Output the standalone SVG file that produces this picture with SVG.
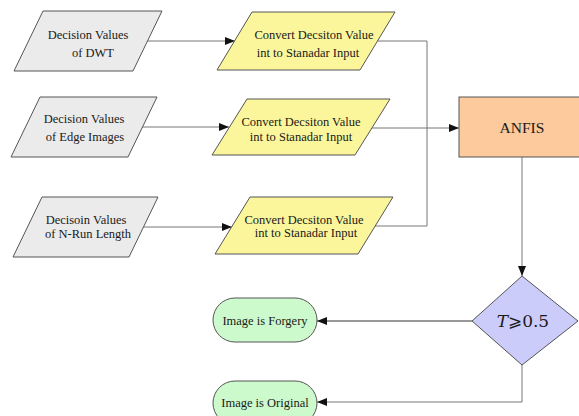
<svg xmlns="http://www.w3.org/2000/svg" width="579" height="416" viewBox="0 0 579 416">
<defs>
<marker id="ah" viewBox="0 0 10 8" refX="10" refY="4" markerWidth="10" markerHeight="8" markerUnits="userSpaceOnUse" orient="auto">
<path d="M0,0 L10,4 L0,8 Z" fill="#111"/>
</marker>
<style>
.sh{stroke:#555;stroke-width:1}
.gray{fill:#ebebeb}
.yel{fill:#fbf69c}
.anf{fill:#fcca9c}
.dia{fill:#ccccfb}
.grn{fill:#ccfacc}
.t{font-family:"Liberation Serif","Times New Roman",serif;font-size:12.5px;fill:#1a1a1a;text-anchor:middle}
.big{font-size:15.5px}
.math{font-family:"DejaVu Serif","Liberation Serif",serif;font-size:17px}
.ln{fill:none;stroke:#777;stroke-width:1}
</style>
</defs>
<rect width="579" height="416" fill="#fff"/>
<g id="connectors">
<path class="ln" d="M147,41 H235" marker-end="url(#ah)"/>
<path class="ln" d="M142,127 H229" marker-end="url(#ah)"/>
<path class="ln" d="M143,227 H232" marker-end="url(#ah)"/>
<path class="ln" d="M377,41 H427 V226 H372"/>
<path class="ln" d="M372,128 H459" marker-end="url(#ah)"/>
<path class="ln" d="M522,157 V276" marker-end="url(#ah)"/>
<path class="ln" d="M472,321 H317" marker-end="url(#ah)" style="stroke:#333"/>
<path class="ln" d="M522,365 V402 H317" marker-end="url(#ah)"/>
</g>
<g id="in1">
<polygon class="sh gray" points="43,11 162,11 133,71 14,71"/>
<text class="t" x="88" y="39">Decision Values</text>
<text class="t" x="93" y="57">of DWT</text>
</g>
<g id="in2">
<polygon class="sh gray" points="40,97 157,97 128,157 11,157"/>
<text class="t" x="84" y="123">Decision Values</text>
<text class="t" x="85" y="141">of Edge Images</text>
</g>
<g id="in3">
<polygon class="sh gray" points="42,197 158,197 129,257 13,257"/>
<text class="t" x="86" y="224">Decisoin Values</text>
<text class="t" x="88" y="238">of N-Run Length</text>
</g>
<g id="conv1">
<polygon class="sh yel" points="252,12 395,12 360,70 217,70"/>
<text class="t" x="314" y="39">Convert Decsiton Value</text>
<text class="t" x="308" y="57">int to Stanadar Input</text>
</g>
<g id="conv2">
<polygon class="sh yel" points="247,99 390,99 355,155 212,155"/>
<text class="t" x="301" y="126">Convert Decsiton Value</text>
<text class="t" x="301" y="141">int to Stanadar Input</text>
</g>
<g id="conv3">
<polygon class="sh yel" points="250,197 393,197 358,254 215,254"/>
<text class="t" x="304" y="224">Convert Decsiton Value</text>
<text class="t" x="306" y="237">int to Stanadar Input</text>
</g>
<g id="anfis">
<rect class="sh anf" x="459" y="97" width="126" height="60"/>
<text class="t big" x="522" y="133">ANFIS</text>
</g>
<g id="decision">
<polygon class="sh dia" points="522,276 578,321 522,365 472,321"/>
<text class="t math" x="523" y="327"><tspan font-style="italic">T</tspan>⩾0.5</text>
</g>
<g id="forgery">
<rect class="sh grn" x="213" y="298" width="104" height="44" rx="22" ry="22"/>
<text class="t" x="265" y="325">Image is Forgery</text>
</g>
<g id="original">
<rect class="sh grn" x="213" y="381" width="104" height="44" rx="22" ry="22"/>
<text class="t" x="265" y="407">Image is Original</text>
</g>
</svg>
